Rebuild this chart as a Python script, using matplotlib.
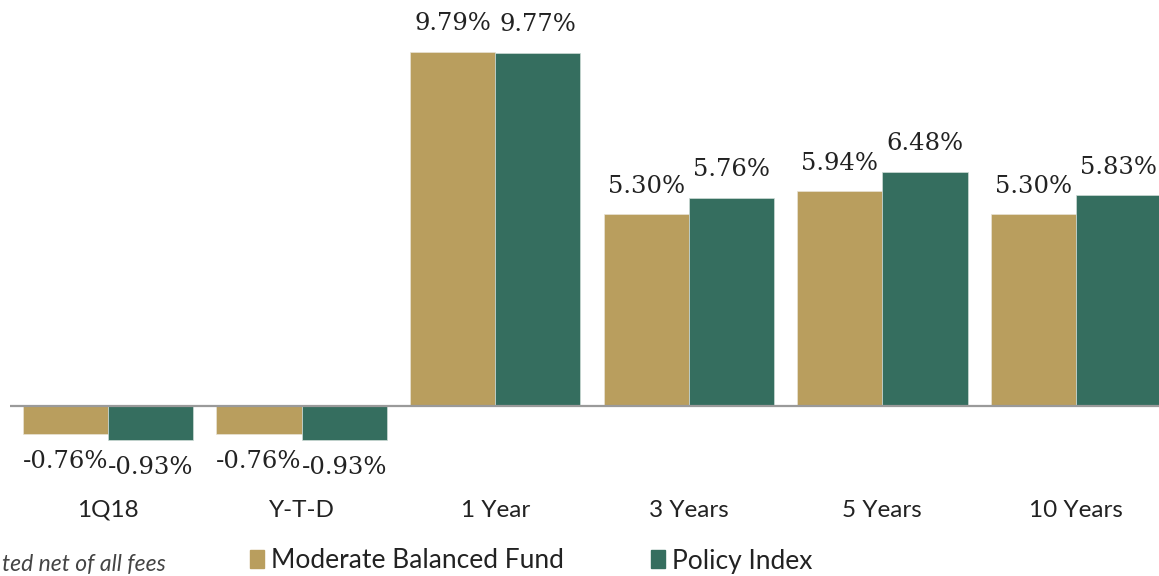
import numpy as np
import matplotlib
matplotlib.use("Agg")
import matplotlib.pyplot as plt
from matplotlib.patches import Patch

periods = ["1Q18", "Y-T-D", "1 Year", "3 Years", "5 Years", "10 Years"]
fund = [-0.76, -0.76, 9.79, 5.30, 5.94, 5.30]
policy = [-0.93, -0.93, 9.77, 5.76, 6.48, 5.83]
series_names = ["Moderate Balanced Fund", "Policy Index"]
colors = ["#B99E5E", "#356E5F"]
footnote = "ted net of all fees"

fig = plt.figure(figsize=(11.59, 5.76), dpi=100)
ax = fig.add_axes([10 / 1159, 0, 1 - 10 / 1159, 1])

x = np.arange(len(periods))
w = 0.44
b1 = ax.bar(x - w / 2, fund, w, color=colors[0], edgecolor="#e8e3d6", linewidth=0.5)
b2 = ax.bar(x + w / 2, policy, w, color=colors[1], edgecolor="#cfdcd7", linewidth=0.5)

lab_font = dict(family="DejaVu Serif", fontsize=17.5, color="#222222")
for bars, vals in ((b1, fund), (b2, policy)):
    labels = ["%.2f%%" % v for v in vals]
    pos = [l if v >= 0 else "" for l, v in zip(labels, vals)]
    neg = [l if v < 0 else "" for l, v in zip(labels, vals)]
    ax.bar_label(bars, labels=pos, padding=12, **lab_font)
    ax.bar_label(bars, labels=neg, padding=12, **lab_font)

ax.axhline(0, color="#9a9a9a", linewidth=1.6, zorder=5)

for xi, p in zip(x, periods):
    ax.text(xi, -2.88, p, ha="center", va="center", family="Lato",
            fontsize=17.5, color="#222222")

ax.set_xlim(-0.506, 5.429)
ax.set_ylim(-4.70, 11.23)
ax.axis("off")

handles = [Patch(color=c) for c in colors]
fig.legend(handles, series_names, loc="center", bbox_to_anchor=(531 / 1159, 1 - 561 / 576),
           ncol=2, frameon=False, handlelength=0.55, handleheight=0.65, handletextpad=0.25,
           columnspacing=3.3, prop=dict(family="Lato", size=19), labelcolor="#222222")

fig.text(2 / 1159, 1 / 576, footnote, ha="left", va="bottom", style="italic",
         family="Lato", fontsize=16.5, color="#444444")

fig.savefig("out.png", dpi=100)
